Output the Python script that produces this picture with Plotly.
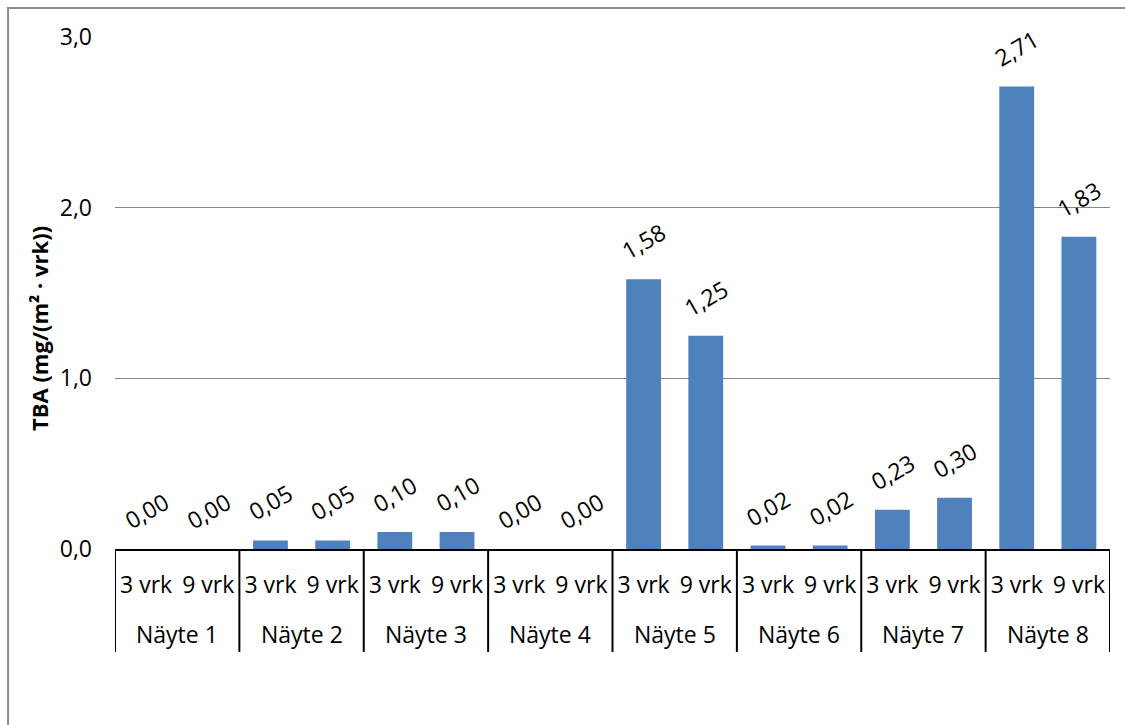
import plotly.graph_objects as go

# Sample groups, exposure times and measured TBA emission rates
samples = ["Näyte 1", "Näyte 2", "Näyte 3", "Näyte 4",
           "Näyte 5", "Näyte 6", "Näyte 7", "Näyte 8"]
times = ["3 vrk", "9 vrk"]
tba_3 = [0.00, 0.05, 0.10, 0.00, 1.58, 0.02, 0.23, 2.71]
tba_9 = [0.00, 0.05, 0.10, 0.00, 1.25, 0.02, 0.30, 1.83]
y_ticks = [0, 1, 2, 3]

# flatten to one bar per (sample, time) slot
pos, sub, vals = [], [], []
for g, (a, b) in enumerate(zip(tba_3, tba_9)):
    for k, (t, v) in enumerate(zip(times, (a, b))):
        pos.append(2 * g + k)
        sub.append(t)
        vals.append(v)

FONT = "Open Sans, sans-serif"
BLACK = "#000000"

fig = go.Figure(go.Bar(
    x=pos,
    y=vals,
    marker=dict(color="#4F81BD", line=dict(width=0)),
    hoverinfo="skip",
))

# rotated value labels above each bar
for x, v in zip(pos, vals):
    fig.add_annotation(
        x=x, y=v, xref="x", yref="y",
        text=f"{v:.2f}".replace(".", ","),
        showarrow=False, textangle=-30,
        yanchor="middle", yshift=38,
        font=dict(family=FONT, size=23, color=BLACK),
    )

# second label row: sample names under each pair of bars
AX_BOTTOM = -0.201   # lower end of the category dividers (paper units)
for g, name in enumerate(samples):
    fig.add_annotation(
        x=2 * g + 0.5, y=-0.166, xref="x", yref="paper",
        text=name, showarrow=False, yanchor="middle",
        font=dict(family=FONT, size=23, color=BLACK),
    )

# vertical dividers between sample groups
for g in range(len(samples) + 1):
    fig.add_shape(type="line", xref="x", yref="paper",
                  x0=2 * g - 0.5, x1=2 * g - 0.5, y0=0, y1=AX_BOTTOM,
                  line=dict(color=BLACK, width=2))

# y-axis title
fig.add_annotation(
    x=-0.0764, y=0.4316, xref="paper", yref="paper",
    text="<b>TBA (mg/(m² · vrk))</b>", showarrow=False, textangle=-90,
    xanchor="center", yanchor="middle",
    font=dict(family=FONT, size=22, color=BLACK),
)

# outer chart frame
fig.add_shape(type="rect", xref="paper", yref="paper",
              x0=-0.1075, x1=1.2, y0=-0.6, y1=1.0566,
              line=dict(color="#8C8C8C", width=2), layer="below")

fig.update_layout(
    width=1125, height=725,
    margin=dict(l=115, r=15, t=37, b=176),
    paper_bgcolor="#FFFFFF", plot_bgcolor="#FFFFFF",
    bargap=0.44,
    separators=", ",
    showlegend=False,
    font=dict(family=FONT, size=23, color=BLACK),
)
fig.update_xaxes(
    range=[-0.5, len(pos) - 0.5],
    tickvals=pos, ticktext=sub,
    showline=True, linecolor=BLACK, linewidth=2,
    ticks="", showgrid=False, zeroline=False,
    ticklabelstandoff=14,
    tickfont=dict(family=FONT, size=23, color=BLACK),
)
fig.update_yaxes(
    range=[0, 3], tickvals=y_ticks, tickformat=".1f",
    showgrid=True, gridcolor="#868686", gridwidth=1,
    zeroline=False, showline=False, ticks="",
    ticklabelstandoff=22,
    tickfont=dict(family=FONT, size=23, color=BLACK),
)

fig.write_html("out.html")
